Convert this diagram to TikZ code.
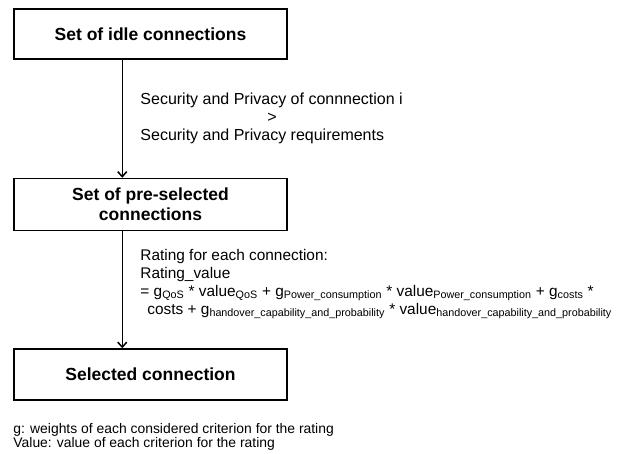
\documentclass[tikz,border=0pt]{standalone}
\usepackage{fontspec}
\setmainfont{Liberation Sans}
\usetikzlibrary{calc,arrows.meta}

\begin{document}
\begin{tikzpicture}[x=1pt,y=1pt,
    object/.style={draw,line width=1.5pt,minimum width=273pt,fill=white,font=\fontsize{17.5}{20}\selectfont\bfseries,align=center},
    arrow/.style={-{Straight Barb[length=5pt,width=9pt]},line width=1.5pt},
    note/.style={anchor=north west,align=left,inner sep=0pt}]
  \useasboundingbox (0,0) rectangle (618,-453);
  \node[object,minimum height=50pt] (idle) at (150.5,-34) {Set of idle connections};
  \node[object,minimum height=52pt,anchor=north] (preselected) at ($ (idle.south) + (0,-118) $) {Set of pre-selected\\connections};
  \node[object,minimum height=51pt,anchor=north] (selected) at ($ (preselected.south) + (0,-117) $) {Selected connection};

  \node[note,font=\fontsize{16}{18}\selectfont] (security) at ($ (idle.south west) + (127,-33) $) {
      Security and Privacy of connnection i\\
      \hspace*{127pt}>\\
      Security and Privacy requirements
    };
  \node[note,font=\fontsize{15.4}{18}\selectfont] (rating) at ($ (preselected.south west) + (127,-17.5) $) {
      Rating for each connection:\\
      Rating\_value\\
      = g\textsubscript{QoS} * value\textsubscript{QoS} + g\textsubscript{Power\_consumption} * value\textsubscript{Power\_consumption} + g\textsubscript{costs} *\\
      \hspace*{7pt}costs + g\textsubscript{handover\_capability\_and\_probability} * value\textsubscript{handover\_capability\_and\_probability}
    };
  \node[note,font=\fontsize{13.9}{14.5}\selectfont] (legend) at ($ (selected.south west) + (0,-22) $) {
      g: weights of each considered criterion for the rating\\
      Value: value of each criterion for the rating
    };

  \draw[arrow] ($ (idle.south west) + (109,0) $) -- ($ (preselected.north west) + (109,0) $);
  \draw[arrow] ($ (preselected.south west) + (109,0) $) -- ($ (selected.north west) + (109,0) $);
\end{tikzpicture}
\end{document}
